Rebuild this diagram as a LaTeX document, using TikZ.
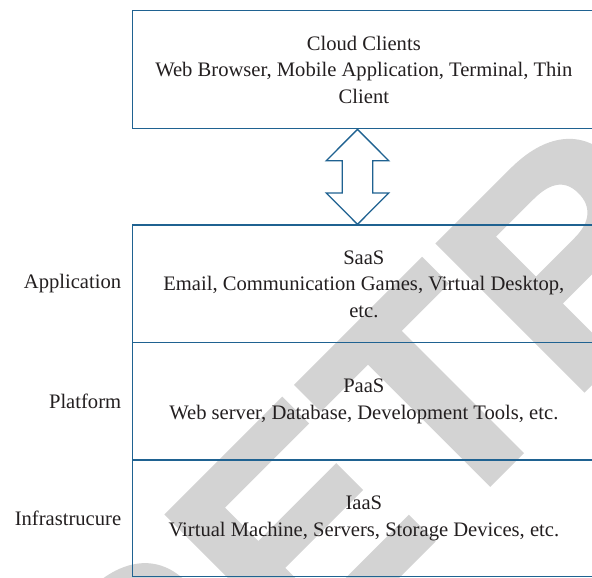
\documentclass[tikz,border=0pt]{standalone}
\usepackage{fontspec}
\usetikzlibrary{calc}
\setmainfont{Liberation Serif}
\newfontfamily\wmfont{Liberation Sans Bold}[FakeBold=1.5]
\definecolor{frameblue}{RGB}{31,98,145}
\definecolor{inkgray}{RGB}{35,31,32}
\definecolor{wmgray}{RGB}{211,211,211}
\begin{document}
\begin{tikzpicture}[x=1pt,y=-1pt,
  layer/.style={draw=frameblue, line width=1.3pt, minimum width=462.3pt,
    align=center, inner sep=0pt, text=inkgray,
    font=\fontsize{20.6}{26.5}\selectfont},
  sidelabel/.style={anchor=east, text=inkgray, inner sep=0pt,
    font=\fontsize{20.6}{26.5}\selectfont},
  blockarrow/.style={draw=frameblue, line width=1.3pt, fill=white, line join=miter}]
\useasboundingbox (0,0) rectangle (592,578);
\clip (0,0) rectangle (592,578);
\fill[white] (0,0) rectangle (592,578);

% faint diagonal watermark behind everything
\node[rotate=45, anchor=base west, inner sep=0pt, text=wmgray,
  font=\wmfont\fontsize{300}{300}\selectfont] (mark) at (146,828) {RETRACTED};

% client box on top
\node[layer, minimum height=118pt] (clients) at (363.85,69.7)
  {Cloud Clients\\Web Browser, Mobile Application, Terminal, Thin\\Client};

% service stack
\node[layer, minimum height=117.7pt] (saas) at (363.85,283.85)
  {SaaS\\Email, Communication Games, Virtual Desktop,\\etc.};
\node[layer, minimum height=117.3pt] (paas) at (363.85,401.35)
  {PaaS\\Web server, Database, Development Tools, etc.};
\node[layer, minimum height=116.7pt] (iaas) at (363.85,518.35)
  {IaaS\\Virtual Machine, Servers, Storage Devices, etc.};

% layer names on the left
\node[sidelabel] (lapp) at ([xshift=-10.7pt]saas.west) {Application};
\node[sidelabel] (lplat) at ([xshift=-10.7pt]paas.west) {Platform};
\node[sidelabel] (linfra) at ([xshift=-10.7pt]iaas.west) {Infrastrucure};

% two-headed block arrow between the client box and the stack
\coordinate (axis) at (357.5,0);
\coordinate (tipT) at (clients.south -| axis);
\coordinate (tipB) at (saas.north -| axis);
\draw[blockarrow] (tipT) -- ++(31.2,31.3) -- ++(-16,0) |- ($(tipB)+(31.2,-31.3)$)
  -- (tipB) -- ++(-31.2,-31.3) -- ++(16,0) |- ($(tipT)+(-31.2,31.3)$) -- cycle;
\end{tikzpicture}
\end{document}
